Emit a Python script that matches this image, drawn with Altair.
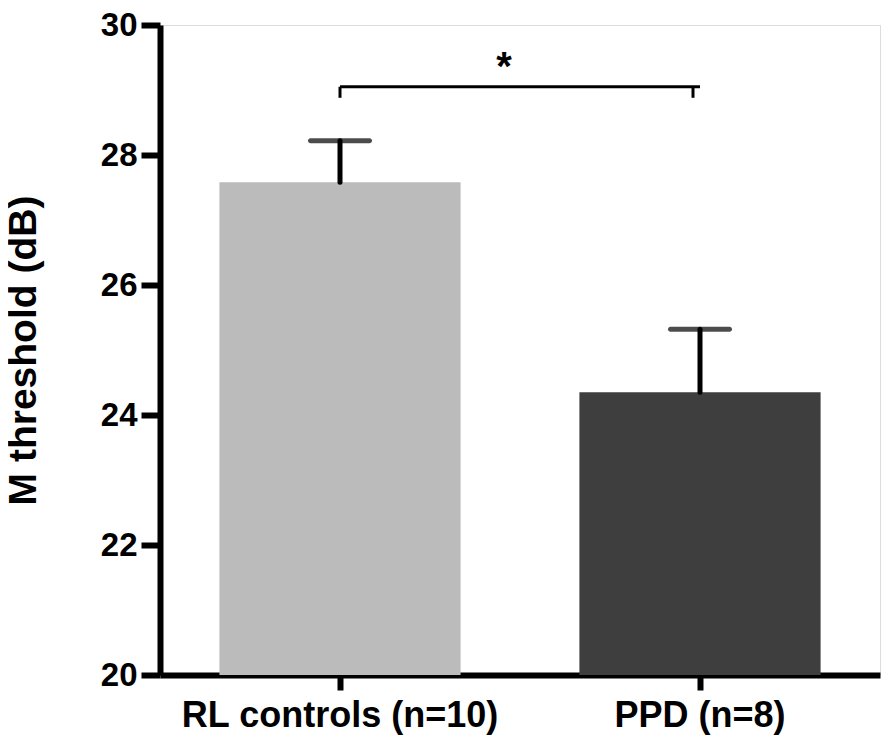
import altair as alt
import pandas as pd

groups = ["RL controls (n=10)", "PPD (n=8)"]
means = [27.58, 24.35]
errors = [0.64, 0.97]
colors = ["#bbbbbb", "#3e3e3e"]

bracket_y = 29.05
bracket_drop = 28.88
star_y = 29.45

df = pd.DataFrame({
    "group": groups,
    "mean": means,
    "upper": [m + e for m, e in zip(means, errors)],
    "color": colors,
})

xscale = alt.Scale(domain=groups, paddingInner=0.33, paddingOuter=0.165)
yscale = alt.Scale(domain=[20, 30], nice=False, zero=False)
FONT = "Liberation Sans"

x_enc = alt.X("group:N", scale=xscale, sort=groups, axis=alt.Axis(
    title=None, labelAngle=0, labelFont=FONT, labelFontSize=36, labelFontWeight="bold",
    labelColor="black", tickSize=15, tickWidth=6, tickColor="black", labelLimit=0,
    domainWidth=6, domainColor="black", labelPadding=8, grid=False))
y_enc = alt.Y("mean:Q", scale=yscale, axis=alt.Axis(
    title="M threshold (dB)", values=[20, 22, 24, 26, 28, 30], format="d",
    titleFont=FONT, titleFontSize=39, titleFontWeight="bold", titleColor="black",
    titlePadding=57, labelFont=FONT, labelFontSize=33, labelFontWeight="bold",
    labelColor="black", tickSize=19, tickWidth=6, tickColor="black",
    domainWidth=6, domainColor="black", labelPadding=4, grid=False))

base = alt.Chart(df)

bars = base.mark_bar(stroke=None).encode(
    x=x_enc, y=y_enc,
    y2=alt.datum(20),
    color=alt.Color("color:N", scale=None),
)

err = base.mark_rule(color="black", strokeWidth=5, strokeCap="round").encode(
    x=alt.X("group:N", scale=xscale, sort=groups),
    y=alt.Y("mean:Q", scale=yscale),
    y2="upper:Q",
)

caps = base.mark_tick(color="black", thickness=5, size=64, cornerRadius=2.5).encode(
    x=alt.X("group:N", scale=xscale, sort=groups),
    y=alt.Y("upper:Q", scale=yscale),
)

br_df = pd.DataFrame({"a": [groups[0]], "b": [groups[1]], "y": [bracket_y], "yd": [bracket_drop]})
br = alt.Chart(br_df)
br_h = br.mark_rule(color="black", strokeWidth=3).encode(
    x=alt.X("a:N", scale=xscale, sort=groups), x2="b:N",
    y=alt.Y("y:Q", scale=yscale),
)
br_l = br.mark_rule(color="black", strokeWidth=3).encode(
    x=alt.X("a:N", scale=xscale, sort=groups),
    y=alt.Y("y:Q", scale=yscale), y2="yd:Q",
)
br_r = br.mark_rule(color="black", strokeWidth=3, xOffset=-7).encode(
    x=alt.X("b:N", scale=xscale, sort=groups),
    y=alt.Y("y:Q", scale=yscale), y2="yd:Q",
)

star_df = pd.DataFrame({"g": [groups[0]], "y": [star_y], "t": ["*"]})
star = alt.Chart(star_df).mark_text(
    font=FONT, fontSize=40, fontWeight="bold", color="black", dx=164, baseline="middle", dy=7
).encode(
    x=alt.X("g:N", scale=xscale, sort=groups),
    y=alt.Y("y:Q", scale=yscale),
    text="t:N",
)

chart = alt.layer(bars, err, caps, br_h, br_l, br_r, star).properties(
    width=720, height=650,
    autosize=alt.AutoSizeParams(type="none"),
    padding={"left": 152, "top": 17, "right": 2, "bottom": 64},
).configure_view(stroke=None).configure(background="white")

chart.save("out.html", embed_options={"renderer": "svg", "actions": False})
